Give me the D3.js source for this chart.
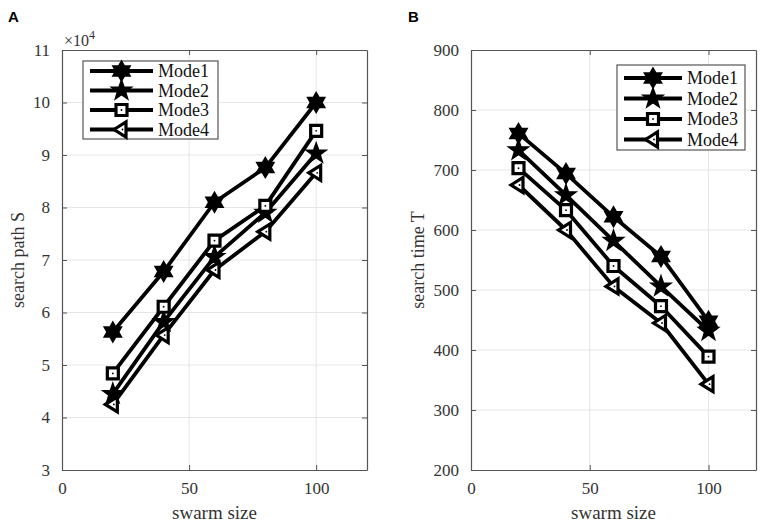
<!DOCTYPE html>
<html>
<head>
<meta charset="utf-8">
<script src="https://cdn.jsdelivr.net/npm/d3@7"></script>
<style>
  body { margin: 0; background: #fff; }
  svg text { font-family: "Liberation Serif", "Times New Roman", Times, "DejaVu Serif", serif; }
  svg text.letter { font-family: "Liberation Sans", Arial, "DejaVu Sans", sans-serif; }
</style>
</head>
<body>
<svg id="chart" width="765" height="527"></svg>
<script>
var SWARM = [20, 40, 60, 80, 100];
var MODES = ["Mode1", "Mode2", "Mode3", "Mode4"];

// search path S, in units of 10^4
var PATH_MODE1 = [5.63, 6.78, 8.10, 8.76, 10.0];
var PATH_MODE2 = [4.45, 5.82, 7.06, 7.90, 9.03];
var PATH_MODE3 = [4.84, 6.11, 7.37, 8.03, 9.46];
var PATH_MODE4 = [4.25, 5.57, 6.81, 7.54, 8.66];

// search time T
var TIME_MODE1 = [761, 694, 622, 556, 448];
var TIME_MODE2 = [733, 658, 582, 506, 432];
var TIME_MODE3 = [703, 633, 540, 473, 389];
var TIME_MODE4 = [675, 600, 506, 445, 343];

var X_TICKS = [0, 50, 100];
var PATH_TICKS = [3, 4, 5, 6, 7, 8, 9, 10, 11];
var TIME_TICKS = [200, 300, 400, 500, 600, 700, 800, 900];

var SERIF = '"Liberation Serif", "Times New Roman", Times, "DejaVu Serif", serif';

var svg = d3.select("#chart");

// marker shapes: hexagram, pentagram, square, left triangle
function hexagram(r) {
  var pts = [];
  for (var i = 0; i < 12; i++) {
    var a = -Math.PI / 2 + i * Math.PI / 6;
    var rr = i % 2 === 0 ? r : r * 0.58;
    pts.push([rr * Math.cos(a), rr * Math.sin(a)]);
  }
  return "M" + pts.join("L") + "Z";
}
function pentagram(r) {
  var pts = [];
  for (var i = 0; i < 10; i++) {
    var a = -Math.PI / 2 + i * Math.PI / 5;
    var rr = i % 2 === 0 ? r : r * 0.40;
    pts.push([rr * Math.cos(a), rr * Math.sin(a)]);
  }
  return "M" + pts.join("L") + "Z";
}
function square(r) {
  return "M" + (-r) + "," + (-r) + "H" + r + "V" + r + "H" + (-r) + "Z";
}
function triLeft(r) {
  return "M" + (-r) + ",0L" + (r * 0.6) + "," + (-r) + "L" + (r * 0.6) + "," + r + "Z";
}

var MARKERS = [
  { d: hexagram(9.5), fill: "#000", sw: 2 },
  { d: pentagram(10.5), fill: "#000", sw: 1.5 },
  { d: square(5.5), fill: "#fff", sw: 3.2 },
  { d: triLeft(7.5), fill: "#fff", sw: 3.2 }
];

function drawMarker(g, i, x, y) {
  var m = MARKERS[i];
  g.append("path")
    .attr("d", m.d)
    .attr("transform", "translate(" + x + "," + y + ")")
    .attr("fill", m.fill)
    .attr("stroke", "#000")
    .attr("stroke-width", m.sw)
    .attr("stroke-linejoin", "miter");
  if (i >= 2) {
    g.append("circle").attr("cx", x + (i === 3 ? 1 : 0)).attr("cy", y).attr("r", 0.9).attr("fill", "#000");
  }
}

function plotPanel(opt) {
  var x = d3.scaleLinear().domain([0, 120]).range([opt.left, opt.right]);
  var y = d3.scaleLinear().domain(opt.yDomain).range([opt.bottom, opt.top]);
  var g = svg.append("g");

  // grid
  g.selectAll(".vgrid").data(X_TICKS.slice(1)).enter().append("line")
    .attr("x1", function(d) { return x(d); }).attr("x2", function(d) { return x(d); })
    .attr("y1", opt.top).attr("y2", opt.bottom)
    .attr("stroke", "#e6e6e6").attr("stroke-width", 1);
  g.selectAll(".hgrid").data(opt.yTicks.slice(1, -1)).enter().append("line")
    .attr("x1", opt.left).attr("x2", opt.right)
    .attr("y1", function(d) { return y(d); }).attr("y2", function(d) { return y(d); })
    .attr("stroke", "#e6e6e6").attr("stroke-width", 1);

  // axes with inward ticks
  var xAxis = d3.axisBottom(x).tickValues(X_TICKS).tickSizeInner(-5).tickSizeOuter(0).tickPadding(12);
  var yAxis = d3.axisLeft(y).tickValues(opt.yTicks).tickSizeInner(-5).tickSizeOuter(0).tickPadding(12);
  var xTop = d3.axisTop(x).tickValues(X_TICKS).tickSizeInner(-5).tickSizeOuter(0).tickFormat("");
  var yRight = d3.axisRight(y).tickValues(opt.yTicks).tickSizeInner(-5).tickSizeOuter(0).tickFormat("");

  [
    [xAxis, "translate(0," + opt.bottom + ")"],
    [yAxis, "translate(" + opt.left + ",0)"],
    [xTop, "translate(0," + opt.top + ")"],
    [yRight, "translate(" + opt.right + ",0)"]
  ].forEach(function(a) {
    var ax = g.append("g").attr("transform", a[1]).call(a[0]);
    ax.attr("font-family", null);
    ax.select(".domain").attr("stroke", "#555").attr("stroke-width", 1.2);
    ax.selectAll(".tick line").attr("stroke", "#555");
    ax.selectAll("text")
      .style("font-family", SERIF)
      .attr("font-size", 17)
      .attr("fill", "#333");
  });

  // series
  var line = d3.line()
    .x(function(d) { return x(d[0]); })
    .y(function(d) { return y(d[1]); });
  opt.series.forEach(function(vals, i) {
    var pts = SWARM.map(function(s, k) { return [s, vals[k]]; });
    g.append("path").datum(pts)
      .attr("d", line)
      .attr("fill", "none")
      .attr("stroke", "#000")
      .attr("stroke-width", 3.8)
      .attr("stroke-linejoin", "round");
  });
  opt.series.forEach(function(vals, i) {
    SWARM.forEach(function(s, k) { drawMarker(g, i, x(s), y(vals[k])); });
  });

  // axis labels
  g.append("text")
    .attr("x", (opt.left + opt.right) / 2).attr("y", 519)
    .attr("text-anchor", "middle").attr("font-size", 19).attr("fill", "#333")
    .style("font-family", SERIF)
    .text("swarm size");
  g.append("text")
    .attr("transform", "translate(" + opt.yLabelX + "," + ((opt.top + opt.bottom) / 2) + ") rotate(-90)")
    .attr("text-anchor", "middle").attr("font-size", 18).attr("fill", "#333")
    .style("font-family", SERIF)
    .text(opt.yLabel);

  // legend
  var lg = g.append("g");
  lg.append("rect")
    .attr("x", opt.legend.x).attr("y", opt.legend.y)
    .attr("width", opt.legend.w).attr("height", opt.legend.h)
    .attr("fill", "#fff").attr("stroke", "#555").attr("stroke-width", 1.2);
  MODES.forEach(function(name, i) {
    var ry = opt.legend.y + opt.legend.pad + i * opt.legend.step;
    var lx0 = opt.legend.x + 7, lx1 = opt.legend.x + opt.legend.lineW;
    lg.append("line")
      .attr("x1", lx0).attr("x2", lx1).attr("y1", ry).attr("y2", ry)
      .attr("stroke", "#000").attr("stroke-width", 3.8);
    drawMarker(lg, i, (lx0 + lx1) / 2, ry);
    lg.append("text")
      .attr("x", lx1 + 5).attr("y", ry + 6)
      .attr("font-size", 18).attr("fill", "#111")
      .style("font-family", SERIF)
      .text(name);
  });

  // panel letter
  svg.append("text")
    .attr("class", "letter")
    .attr("x", opt.letterX).attr("y", 22)
    .attr("font-weight", "bold").attr("font-size", 15)
    .text(opt.letter);

  return g;
}

var gA = plotPanel({
  left: 62, right: 367, top: 50, bottom: 470,
  yDomain: [3, 11], yTicks: PATH_TICKS,
  series: [PATH_MODE1, PATH_MODE2, PATH_MODE3, PATH_MODE4],
  yLabel: "search path S", yLabelX: 24,
  legend: { x: 83, y: 61, w: 135, h: 78, pad: 10, step: 19.5, lineW: 70 },
  letter: "A", letterX: 8
});

// exponent label for panel A
var expo = gA.append("text").attr("x", 64).attr("y", 46).attr("font-size", 16).attr("fill", "#333")
  .style("font-family", SERIF);
expo.append("tspan").text("\u00d710");
expo.append("tspan").attr("dy", -7).attr("font-size", 12).text("4");

plotPanel({
  left: 471, right: 756, top: 50, bottom: 470,
  yDomain: [200, 900], yTicks: TIME_TICKS,
  series: [TIME_MODE1, TIME_MODE2, TIME_MODE3, TIME_MODE4],
  yLabel: "search time T", yLabelX: 424,
  legend: { x: 617, y: 65, w: 128, h: 85, pad: 13, step: 20.5, lineW: 65 },
  letter: "B", letterX: 408
});
</script>
</body>
</html>
